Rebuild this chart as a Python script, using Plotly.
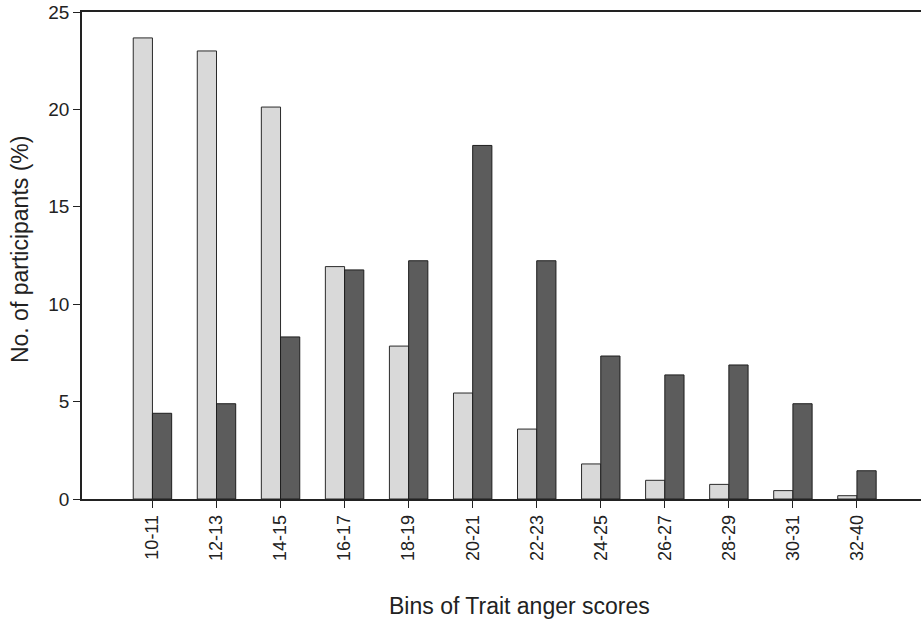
import plotly.graph_objects as go

bins = ["10-11", "12-13", "14-15", "16-17", "18-19", "20-21",
        "22-23", "24-25", "26-27", "28-29", "30-31", "32-40"]
group_a = [23.67, 23.0, 20.12, 11.93, 7.85, 5.44, 3.59, 1.8, 0.96, 0.75, 0.43, 0.17]
group_b = [4.40, 4.89, 8.32, 11.76, 12.23, 18.15, 12.23, 7.34, 6.37, 6.88, 4.89, 1.45]
y_ticks = [0, 5, 10, 15, 20, 25]

font_family = "Liberation Sans, Arial, sans-serif"

fig = go.Figure()
fig.add_trace(go.Bar(x=bins, y=group_a, marker=dict(color="#d9d9d9", line=dict(color="#2a2a2a", width=1))))
fig.add_trace(go.Bar(x=bins, y=group_b, marker=dict(color="#5c5c5c", line=dict(color="#1e1e1e", width=1))))

fig.update_layout(
    width=921, height=623,
    margin=dict(l=82, r=0, t=12, b=124),
    barmode="group", bargap=0.4, bargroupgap=0,
    showlegend=False,
    plot_bgcolor="white", paper_bgcolor="white",
    font=dict(family=font_family, color="#222222"),
    xaxis=dict(
        type="category", range=[-1.1, 12.0],
        showline=True, linecolor="#222222", linewidth=1.5, mirror=True,
        ticks="outside", ticklen=7, tickcolor="#222222",
        tickangle=-90, tickfont=dict(size=18),
        showgrid=False,
    ),
    yaxis=dict(
        range=[0, 25], tickvals=y_ticks,
        showline=True, linecolor="#222222", linewidth=1.5,
        ticks="outside", ticklen=7, tickcolor="#222222",
        tickfont=dict(size=19),
        showgrid=False, zeroline=False,
    ),
    annotations=[
        dict(text="Bins of Trait anger scores", xref="paper", yref="paper",
             x=0.521, y=-0.22, xanchor="center", yanchor="middle",
             showarrow=False, font=dict(size=23)),
        dict(text="No. of participants (%)", xref="paper", yref="paper",
             x=-0.074, y=0.513, xanchor="center", yanchor="middle", textangle=-90,
             showarrow=False, font=dict(size=23)),
    ],
)

fig.write_html("out.html")
